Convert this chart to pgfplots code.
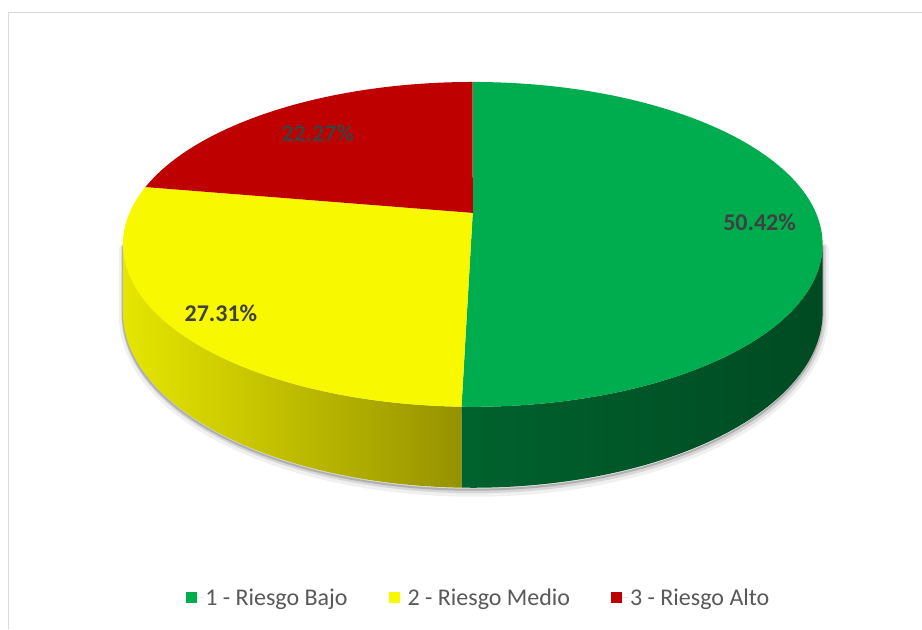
\documentclass[border=0pt]{standalone}
\usepackage{pgfplots}
\pgfplotsset{compat=1.18}
\usepackage{fontspec}
\setmainfont{Carlito}
\definecolor{cgreen}{HTML}{00AD4E}
\definecolor{cyellow}{HTML}{F8F800}
\definecolor{cred}{HTML}{BE0000}
\definecolor{lgreen}{HTML}{00B050}
\definecolor{lyellow}{HTML}{FFFF00}
\definecolor{lred}{HTML}{C00000}
\definecolor{labtext}{HTML}{404040}
\definecolor{legtext}{HTML}{595959}
\definecolor{framegray}{HTML}{D9D9D9}
% data (percent)
\pgfmathsetmacro{\vA}{50.42}
\pgfmathsetmacro{\vB}{27.31}
\pgfmathsetmacro{\vC}{22.27}
\pgfmathsetmacro{\tA}{-90}
\pgfmathsetmacro{\tB}{\tA+3.6*\vA}
\pgfmathsetmacro{\tC}{\tB+3.6*\vB}
\pgfmathsetmacro{\tD}{\tC+3.6*\vC}
\pgfmathsetmacro{\sL}{asin(0.1939)}
\pgfmathsetmacro{\sR}{180-\sL}
\begin{document}
\begin{tikzpicture}
\begin{axis}[
  x=1pt, y=1pt,
  xmin=0, xmax=922, ymin=0, ymax=629,
  y dir=reverse,
  hide axis, clip=false,
  axis background/.style={fill=white},
  declare function={
    px(\q)=473+343.4*cos(\q)/(1-0.1939*sin(\q));
    py(\q)=213+156.4*sin(\q)/(1-0.1939*sin(\q));
    dz(\q)=65.3/(1-0.1939*sin(\q));
    ss(\t)=min(1,1.03*(1-abs(1-\t)));
  },
  legend columns=3,
  legend cell align=left,
  legend image code/.code={\path (0pt,0pt) -- (17pt,0pt);\fill[#1] (0pt,-5.5pt) rectangle (11pt,5.5pt);},
  legend style={draw=none, fill=none, at={(0.5196,0.049)}, anchor=center,
    font=\fontsize{24}{28}\selectfont, text=legtext,
    /tikz/every even column/.append style={column sep=39pt}},
]
% shadow
\addplot[forget plot, draw=black, opacity=0.06, line width=10pt, line join=round, fill=none, domain=0:2, samples=161, variable=\t]
  ({px(\sL+(\sR-\sL)*ss(\t))+1},{py(\sL+(\sR-\sL)*ss(\t))+(\t>1)*dz(\sL+(\sR-\sL)*ss(\t))+4}) -- cycle;
\addplot[forget plot, draw=black, opacity=0.10, line width=5pt, line join=round, fill=none, domain=0:2, samples=161, variable=\t]
  ({px(\sL+(\sR-\sL)*ss(\t))+1},{py(\sL+(\sR-\sL)*ss(\t))+(\t>1)*dz(\sL+(\sR-\sL)*ss(\t))+3}) -- cycle;
\addplot[forget plot, draw=black, opacity=0.18, line width=2pt, line join=round, fill=none, domain=0:2, samples=161, variable=\t]
  ({px(\sL+(\sR-\sL)*ss(\t))},{py(\sL+(\sR-\sL)*ss(\t))+(\t>1)*dz(\sL+(\sR-\sL)*ss(\t))+2}) -- cycle;
% yellow side
\addplot[forget plot, draw=none, left color={rgb,255:red,230;green,230;blue,0}, right color={rgb,255:red,150;green,146;blue,0}, domain=0:2, samples=161, variable=\t]
  ({px(\tB+(\sR-\tB)*ss(\t))},{py(\tB+(\sR-\tB)*ss(\t))+(\t>1)*dz(\tB+(\sR-\tB)*ss(\t))}) -- cycle;
% green side
\addplot[forget plot, draw=none, left color={rgb,255:red,0;green,98;blue,46}, middle color={rgb,255:red,0;green,69;blue,31}, right color={rgb,255:red,0;green,74;blue,34}, domain=0:2, samples=161, variable=\t]
  ({px(\sL+(\tB-\sL)*ss(\t))},{py(\sL+(\tB-\sL)*ss(\t))+(\t>1)*dz(\sL+(\tB-\sL)*ss(\t))}) -- cycle;
% top faces
\addplot[fill=cgreen, draw=none, domain=\tA:\tB, samples=150, variable=\t]
  ({px(\t)},{py(\t)}) -- (axis cs:473,213) -- cycle;
\addlegendentry{1 - Riesgo Bajo}
\addplot[fill=cyellow, draw=none, domain=\tB:\tC, samples=100, variable=\t]
  ({px(\t)},{py(\t)}) -- (axis cs:473,213) -- cycle;
\addlegendentry{2 - Riesgo Medio}
\addplot[fill=cred, draw=none, domain=\tC:\tD, samples=100, variable=\t]
  ({px(\t)},{py(\t)}) -- (axis cs:473,213) -- cycle;
\addlegendentry{3 - Riesgo Alto}
% labels
\node[font=\bfseries\fontsize{24}{28}\selectfont, text=labtext] at (axis cs:760,222) {50.42\%};
\node[font=\bfseries\fontsize{24}{28}\selectfont, text=labtext] at (axis cs:221,313) {27.31\%};
\node[font=\bfseries\fontsize{24}{28}\selectfont, text=labtext] at (axis cs:318,133) {22.27\%};
% frame
\draw[framegray, line width=1pt] (axis cs:8.5,629) -- (axis cs:8.5,12.5) -- (axis cs:922,12.5);
\end{axis}
\end{tikzpicture}
\end{document}
